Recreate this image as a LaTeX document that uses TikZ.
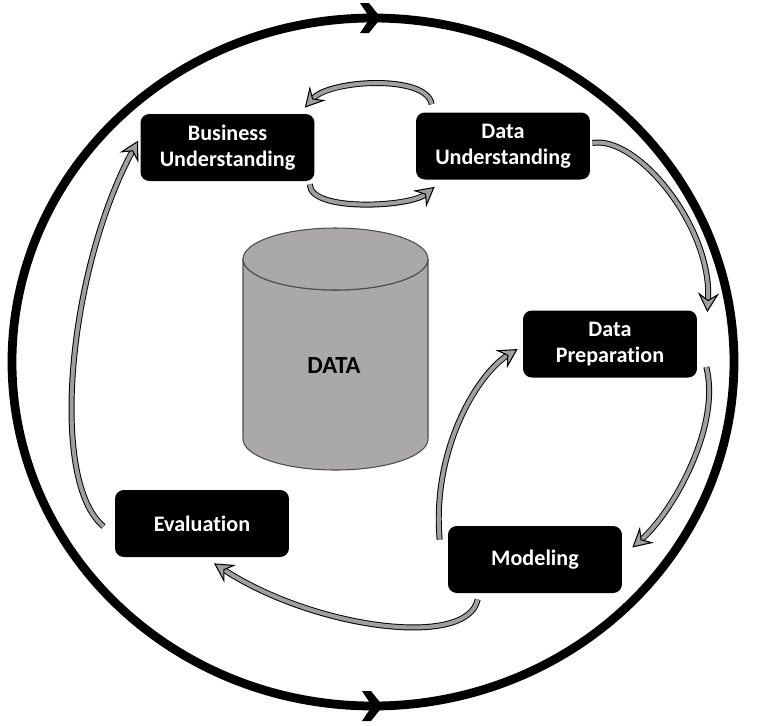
\documentclass[tikz,border=0pt]{standalone}
\usepackage{fontspec}
\setmainfont{Carlito}[Ligatures=NoCommon]
\usetikzlibrary{arrows.meta, calc}
\definecolor{flowgray}{RGB}{160,158,158}
\definecolor{datagray}{RGB}{170,168,168}

\begin{document}
\begin{tikzpicture}[x=0.02cm, y=-0.02cm,
    box/.style={rectangle, rounded corners=5pt, fill=black, text=white, font=\bfseries\fontsize{12.6}{15}\selectfont,
        align=center, minimum width=3.48cm, minimum height=1.34cm, inner sep=2pt},
    flow/.style={draw=flowgray, line width=2.3pt,
        preaction={arrows=-, draw=black, line width=3.4pt, shorten >=7pt},
        -{Stealth[length=11pt, width=12pt, inset=4pt, fill=flowgray, color=black, line width=0.6pt]}},
    cycle/.style={line width=5pt, black}]
        \useasboundingbox (0,0) rectangle (762,725);
        % outer cycle
        \draw[cycle] (373,362) ellipse [x radius=361, y radius=344];
        \foreach \px/\py/\a in {370/18/0, 734/362/90, 372/706/0, 12/362/-90}
            \fill (\px,\py) [rotate=\a] +(11,0) -- +(-1,-15) -- +(-10,-15) -- +(0,0) -- +(-10,15) -- +(-1,15) -- cycle;
        % data store
        \draw[fill=datagray, draw=black!70, line width=0.6pt] (243,259) -- (243,439)
            arc[start angle=180, end angle=0, x radius=92.5, y radius=31] -- (428,259)
            arc[start angle=0, end angle=180, x radius=92.5, y radius=31] -- cycle;
        \draw[fill=datagray, draw=black!70, line width=0.6pt] (335.5,259) ellipse [x radius=92.5, y radius=31];
        \node[font=\bfseries\fontsize{14}{16}\selectfont] (data) at (334,366) {DATA};
        % phases
        \node[box] (bu) at (227.5,147.5) {Business\\Understanding};
        \node[box] (du) at (503,146) {Data\\Understanding};
        \node[box] (dp) at (610,344) {Data\\Preparation};
        \node[box] (mod) at (535,559.5) {Modeling};
        \node[box] (eval) at (202,523.5) {Evaluation};
        % flows between phases
        \draw[flow] ($(du.north west)+(16,-8)$) .. controls +(-5,-30) and +(25,-28) .. ($(bu.north east)+(-10,-6)$);
        \draw[flow] ($(bu.south east)+(-5,3)$) .. controls +(0,28) and +(-25,20) .. ($(du.south west)+(19,7)$);
        \draw[flow] ($(du.east)+(2,-3)$) .. controls +(45,-8) and +(5,-85) .. ($(dp.north east)+(10,2)$);
        \draw[flow] ($(dp.east)+(9,23)$) .. controls +(15,60) and +(40,-35) .. ($(mod.east)+(10,-12)$);
        \draw[flow] ($(mod.north west)+(-8,14)$) .. controls +(-8,-90) and +(-40,25) .. ($(dp.west)+(-5,5)$);
        \draw[flow] ($(mod.south west)+(30,6)$) .. controls +(-10,50) and +(100,65) .. ($(eval.south)+(12,6)$);
        \draw[flow] ($(eval.west)+(-11,3)$) .. controls +(-55,-45) and +(-70,130) .. ($(bu.west)+(-2,-7)$);
\end{tikzpicture}
\end{document}
